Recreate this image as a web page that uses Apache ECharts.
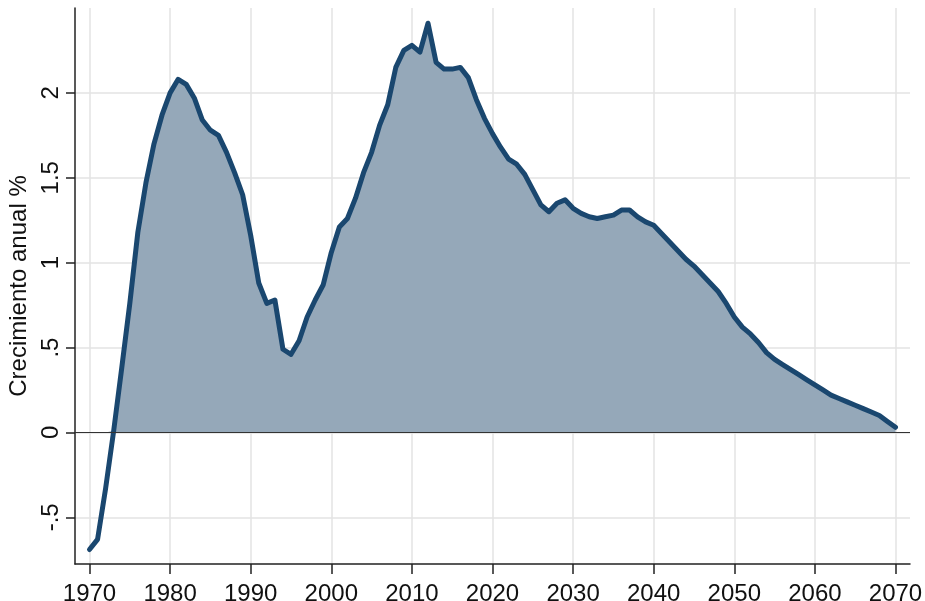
<!DOCTYPE html>
<html>
<head>
<meta charset="utf-8">
<script src="https://cdn.jsdelivr.net/npm/echarts@6/dist/echarts.min.js"></script>
<style>
  html, body { margin: 0; padding: 0; background: #fff; }
  #main { width: 925px; height: 601px; }
</style>
</head>
<body>
<div id="main"></div>
<script>
// annual growth, 1970-2070
let firstYear = 1970;
let growth = [
  -0.69, -0.63, -0.33, 0.01, 0.38, 0.76, 1.18, 1.47, 1.70, 1.87,
  2.00, 2.08, 2.05, 1.97, 1.84, 1.78, 1.75, 1.65, 1.53, 1.40,
  1.16, 0.88, 0.76, 0.78, 0.49, 0.46, 0.54, 0.68, 0.78, 0.87,
  1.06, 1.21, 1.26, 1.38, 1.53, 1.65, 1.81, 1.93, 2.15, 2.25,
  2.28, 2.24, 2.41, 2.18, 2.14, 2.14, 2.15, 2.09, 1.96, 1.85,
  1.76, 1.68, 1.61, 1.58, 1.52, 1.43, 1.34, 1.30, 1.35, 1.37,
  1.32, 1.29, 1.27, 1.26, 1.27, 1.28, 1.31, 1.31, 1.27, 1.24,
  1.22, 1.17, 1.12, 1.07, 1.02, 0.98, 0.93, 0.88, 0.83, 0.76,
  0.68, 0.62, 0.58, 0.53, 0.47, 0.43, 0.40, 0.37, 0.34, 0.31,
  0.28, 0.25, 0.22, 0.20, 0.18, 0.16, 0.14, 0.12, 0.10, 0.065,
  0.03
];
let xTicks = [1970, 1980, 1990, 2000, 2010, 2020, 2030, 2040, 2050, 2060, 2070];
let yTicks = [-0.5, 0, 0.5, 1, 1.5, 2];

function stataNum(v) {
    if (v === 0) return '0';
    return String(v).replace('0.', '.');
}

let points = growth.map((v, i) => [firstYear + i, v]);
// shaded part only above zero
let shade = growth.map((v, i) => [firstYear + i, Math.max(v, 0)]);

var myChart = echarts.init(document.getElementById('main'));

var option = {
    animation: false,
    textStyle: { fontFamily: 'Liberation Sans' },
    grid: { left: 75, right: 15, top: 8, bottom: 37, outerBoundsMode: 'none', containLabel: false },
    xAxis: {
        type: 'value',
        min: 1968.2,
        max: 2071.8,
        axisLine: { onZero: false, lineStyle: { color: '#222', width: 1.5 } },
        axisTick: { show: true, length: 10, customValues: xTicks, lineStyle: { color: '#222', width: 1.5 } },
        axisLabel: { customValues: xTicks, color: '#111', fontSize: 24, margin: 18, formatter: v => String(v) },
        splitLine: { show: true, lineStyle: { color: '#e3e3e3', width: 1.5 } }
    },
    yAxis: {
        type: 'value',
        min: -0.775,
        max: 2.5,
        name: 'Crecimiento anual %',
        nameLocation: 'middle',
        nameGap: 35,
        nameTextStyle: { color: '#111', fontSize: 24 },
        axisLine: { show: true, onZero: false, lineStyle: { color: '#222', width: 1.5 } },
        axisTick: { show: true, length: 9, customValues: yTicks, lineStyle: { color: '#222', width: 1.5 } },
        axisLabel: {
            customValues: yTicks, color: '#111', fontSize: 24, rotate: 90, margin: 12,
            formatter: stataNum
        },
        splitLine: { show: true, lineStyle: { color: '#e3e3e3', width: 1.5 } }
    },
    series: [{
        type: 'line',
        data: shade,
        showSymbol: false,
        silent: true,
        lineStyle: { width: 0 },
        areaStyle: { color: '#95a8b9', opacity: 1 },
        markLine: {
            silent: true,
            symbol: 'none',
            label: { show: false },
            lineStyle: { color: '#333', width: 1.2, type: 'solid' },
            data: [{ yAxis: 0 }]
        }
    }, {
        type: 'line',
        data: points,
        showSymbol: false,
        lineStyle: { color: '#1a476f', width: 5, join: 'round', cap: 'round' },
        itemStyle: { color: '#1a476f' }
    }]
};

myChart.setOption(option);
</script>
</body>
</html>
